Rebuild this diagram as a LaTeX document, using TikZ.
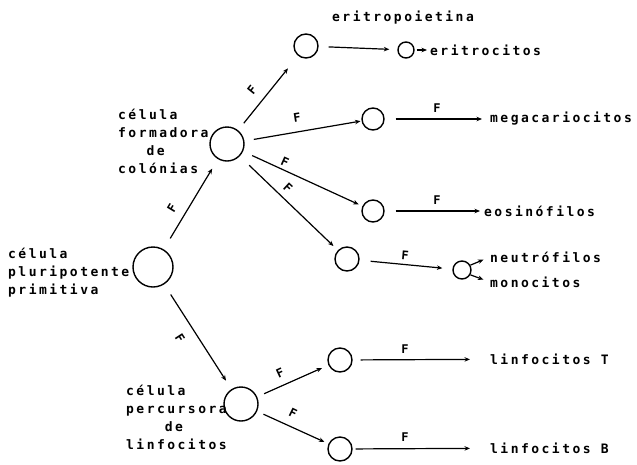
\documentclass[tikz,border=0pt]{standalone}
\usepackage{fontspec}
\newfontfamily\printfont[LetterSpace=19]{DejaVu Sans Mono}
\usetikzlibrary{arrows.meta}

\begin{document}
\begin{tikzpicture}[x=1pt,y=-1pt,
  cell/.style={circle,draw,line width=1.4pt,inner sep=0pt},
  lbl/.style={font=\printfont\bfseries\fontsize{13}{18}\selectfont,inner sep=0pt,align=left,anchor=west},
  flab/.style={font=\printfont\bfseries\fontsize{12}{14}\selectfont,inner sep=0pt},
  arr/.style={-{Stealth[length=5.5pt,width=4.5pt]},line width=1.2pt}]
\useasboundingbox (0,0) rectangle (637,464);

% cells
\node[cell,minimum size=40pt] (pp) at (153,267) {};
\node[cell,minimum size=34pt] (cfc) at (227,144) {};
\node[cell,minimum size=24pt] (ep) at (306,46) {};
\node[cell,minimum size=16pt] (er) at (406,50) {};
\node[cell,minimum size=22pt] (mk) at (373,119) {};
\node[cell,minimum size=22pt] (eo) at (373,211) {};
\node[cell,minimum size=24pt] (gm) at (347,259) {};
\node[cell,minimum size=18pt] (nm) at (462,270) {};
\node[cell,minimum size=34pt] (ly) at (241,404) {};
\node[cell,minimum size=24pt] (lt) at (340,360) {};
\node[cell,minimum size=24pt] (lb) at (340,449) {};

% texts
\node[lbl] (t-pp) at (8,273) {célula\\pluripotente\\primitiva};
\node[lbl] (t-cfc) at (118,141) {célula\\formadora\\\phantom{xxx}de\\colónias};
\node[lbl] (t-ly) at (126,417) {célula\\percursora\\\phantom{xxxx}de\\linfocitos};
\node[lbl] (t-epo) at (332,18) {eritropoietina};
\node[lbl] (t-er) at (430,50) {eritrocitos};
\node[lbl] (t-mk) at (490,119) {megacariocitos};
\node[lbl] (t-eo) at (484,211) {eosinófilos};
\node[lbl] (t-ne) at (490,257) {neutrófilos};
\node[lbl] (t-mo) at (490,282) {monocitos};
\node[lbl] (t-lt) at (490,359) {linfocitos T};
\node[lbl] (t-lb) at (490,448) {linfocitos B};

% branching arrows
\draw[arr,shorten <=12.7pt,shorten >=11pt] (pp) -- (cfc);
\draw[arr,shorten <=12pt,shorten >=10pt] (pp) -- (ly);
\draw[arr,shorten <=9pt,shorten >=16pt] (cfc) -- (ep);
\draw[arr,shorten <=9.5pt,shorten >=1pt] (cfc) -- (mk);
\draw[arr,shorten <=10pt,shorten >=4pt] (cfc) -- (eo);
\draw[arr,shorten <=13pt,shorten >=6pt] (cfc) -- (gm);
\draw[arr,shorten <=7.6pt,shorten >=7pt] (ly) -- (lt);
\draw[arr,shorten <=7pt,shorten >=4.5pt] (ly) -- (lb);

% arrows towards the mature cells
\draw[arr,shorten <=10pt,shorten >=8pt] (ep) -- (er);
\draw[arr,shorten <=2pt,shorten >=3pt] (er) -- (t-er);
\draw[arr,shorten <=11pt,shorten >=8pt] (mk) -- (t-mk);
\draw[arr,shorten <=11pt,shorten >=4pt] (eo) -- (t-eo);
\draw[arr,shorten <=11pt,shorten >=10pt] (gm) -- (nm);
\draw[arr,shorten >=7pt] (nm.30) -- (t-ne.west);
\draw[arr,shorten >=7pt] (nm.-30) -- (t-mo.west);
\draw[arr,shorten <=8pt,shorten >=20pt] (lt) -- (t-lt);
\draw[arr,shorten <=3pt,shorten >=20pt] (lb) -- (t-lb);

% factor labels
\node[flab,rotate=59] (f1) at (172,208) {F};
\node[flab,rotate=51] (f2) at (252,90) {F};
\node[flab,rotate=9] (f3) at (297,118) {F};
\node[flab,rotate=-24] (f4) at (285,162) {F};
\node[flab,rotate=-43] (f5) at (288,188) {F};
\node[flab,rotate=-5] (f6) at (405,255) {F};
\node[flab,rotate=-57] (f7) at (180,338) {F};
\node[flab,rotate=25] (f8) at (280,373) {F};
\node[flab,rotate=-26] (f9) at (293,413) {F};
\node[flab] (f10) at (405,349) {F};
\node[flab] (f11) at (405,437) {F};
\node[flab] (f12) at (437,108) {F};
\node[flab] (f13) at (437,200) {F};
\end{tikzpicture}
\end{document}
